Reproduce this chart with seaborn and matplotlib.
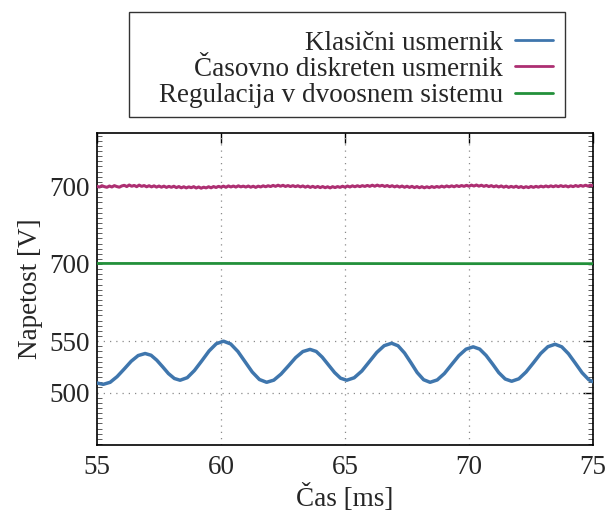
import numpy as np
import pandas as pd
import matplotlib
matplotlib.use("Agg")
import matplotlib.pyplot as plt
from matplotlib.lines import Line2D
from matplotlib.patches import Rectangle
import seaborn as sns

# ---------------- data ----------------
series_names = ["Klasični usmernik", "Časovno diskreten usmernik", "Regulacija v dvoosnem sistemu"]
series_colors = ["#3f76ad", "#ad2f72", "#22903a"]

t_klasicni = [55.0, 55.25, 55.53, 55.81, 56.10, 56.38, 56.66, 56.94,
              57.18, 57.41, 57.65, 57.88, 58.12, 58.35,
              58.64, 58.93, 59.23, 59.52, 59.81, 60.10,
              60.39, 60.68, 60.97, 61.26, 61.55, 61.84,
              62.13, 62.42, 62.72, 63.01, 63.30, 63.59,
              63.84, 64.08, 64.33, 64.58, 64.82, 65.07,
              65.37, 65.68, 65.98, 66.28, 66.58, 66.88,
              67.14, 67.40, 67.66, 67.91, 68.17, 68.43,
              68.72, 69.01, 69.30, 69.59, 69.88, 70.17,
              70.43, 70.69, 70.95, 71.20, 71.46, 71.72,
              72.01, 72.30, 72.60, 72.89, 73.18, 73.47,
              73.74, 74.01, 74.29, 74.56, 74.83, 75.0]
u_klasicni = [509.3, 508.0, 510.0, 515.5, 523.0, 530.5, 536.0, 538.0,
              536.3, 531.5, 525.0, 518.5, 513.7, 512.0,
              514.5, 521.5, 531.0, 540.5, 547.5, 550.0,
              547.3, 540.0, 530.0, 520.0, 512.7, 510.0,
              512.1, 518.0, 526.0, 534.0, 539.9, 542.0,
              540.0, 534.5, 527.0, 519.5, 514.0, 512.0,
              514.4, 521.0, 530.0, 539.0, 545.6, 548.0,
              545.5, 538.5, 529.0, 519.5, 512.5, 510.0,
              512.3, 518.6, 527.3, 535.9, 542.2, 544.5,
              542.3, 536.1, 527.8, 519.4, 513.2, 511.0,
              513.4, 520.0, 529.0, 538.0, 544.6, 547.0,
              544.5, 537.8, 528.5, 519.3, 512.5, 510.5]

t_diskretni = [round(55.0 + 0.1 * i, 1) for i in range(201)]
u_diskretni = [
    700.6, 699.9, 701.2, 700.3, 699.7, 700.9, 700.0, 701.3, 700.4, 699.8,
    701.0, 701.6, 700.4, 701.9, 700.7, 701.5, 700.3, 701.8, 700.6, 701.4,
    700.2, 701.2, 700.1, 701.1, 699.9, 700.9, 699.8, 700.8, 699.6, 700.6,
    699.7, 700.7, 699.4, 700.4, 699.2, 700.2, 699.1, 700.1, 699.3, 700.3,
    699.0, 700.0, 698.8, 699.8, 699.1, 700.2, 699.2, 700.4, 699.5, 700.6,
    699.8, 700.8, 699.7, 701.0, 700.0, 700.9, 699.9, 701.1, 700.1, 700.8,
    699.9, 700.9, 699.8, 700.7, 699.6, 700.8, 700.0, 701.1, 700.2, 701.2,
    700.4, 701.5, 700.6, 701.7, 700.7, 701.6, 700.5, 701.4, 700.4, 701.3,
    700.3, 701.2, 700.1, 701.0, 699.8, 700.8, 699.6, 700.6, 699.5, 700.5,
    699.4, 700.4, 699.3, 700.2, 699.1, 700.3, 699.4, 700.4, 699.6, 700.7,
    699.8, 700.9, 700.0, 701.1, 700.2, 701.2, 700.3, 701.3, 700.5, 701.5,
    700.6, 701.7, 700.7, 701.8, 700.8, 701.6, 700.5, 701.4, 700.3, 701.2,
    700.1, 701.0, 699.9, 700.9, 699.7, 700.7, 699.6, 700.6, 699.4, 700.4,
    699.3, 700.3, 699.2, 700.2, 699.3, 700.4, 699.5, 700.5, 699.7, 700.8,
    699.9, 701.0, 700.1, 701.1, 700.2, 701.3, 700.4, 701.4, 700.6, 701.6,
    700.7, 701.8, 700.9, 701.9, 700.8, 701.7, 700.6, 701.5, 700.4, 701.3,
    700.2, 701.1, 700.0, 701.0, 699.8, 700.8, 699.6, 700.6, 699.7, 700.7,
    699.5, 700.4, 699.3, 700.3, 699.4, 700.5, 699.6, 700.6, 699.8, 700.8,
    700.0, 701.0, 700.1, 701.1, 700.2, 701.2, 700.3, 701.3, 700.4, 701.1,
    700.1, 701.1, 700.3, 701.4, 700.5, 701.5, 700.7, 701.7, 700.8, 701.8,
    701.1]

t_regulacija = [55.0, 60.0, 65.0, 70.0, 75.0]
u_regulacija = [625.6, 625.6, 625.5, 625.4, 625.4]

x_ticks = [55, 60, 65, 70, 75]
y_grid_ticks = [500, 550]
y_ticks = [500, 550, 625.5, 700.5]
y_tick_labels = ["500", "550", "700", "700"]

x_label = "Čas [ms]"
y_label = "Napetost [V]"

# ---------------- style ----------------
sns.set_style("white")
plt.rcParams["font.family"] = ["Liberation Serif", "DejaVu Serif"]
FS = 19.5

fig = plt.figure(figsize=(6.06, 5.21), dpi=100)
ax = fig.add_axes([97 / 606, 76 / 521, 496 / 606, 312 / 521])

df_k = pd.DataFrame({"t": t_klasicni, "u": u_klasicni})
df_d = pd.DataFrame({"t": t_diskretni, "u": u_diskretni})
df_r = pd.DataFrame({"t": t_regulacija, "u": u_regulacija})

sns.lineplot(data=df_d, x="t", y="u", ax=ax, color=series_colors[1], lw=2.2, zorder=3)
sns.lineplot(data=df_r, x="t", y="u", ax=ax, color=series_colors[2], lw=2.0, zorder=3)
sns.lineplot(data=df_k, x="t", y="u", ax=ax, color=series_colors[0], lw=2.5, zorder=3)

ax.set_xlim(55, 75)
ax.set_ylim(449, 752.5)

# grid
for xv in x_ticks[1:-1]:
    ax.axvline(xv, color="#8a8a8a", lw=0.9, ls=(0, (1, 4)), zorder=1)
for yv in y_grid_ticks:
    ax.axhline(yv, color="#8a8a8a", lw=0.9, ls=(0, (1, 4)), zorder=1)

ax.set_xticks(x_ticks)
ax.set_xticklabels([str(v) for v in x_ticks], fontsize=FS)
ax.set_yticks(y_ticks)
ax.set_yticklabels(y_tick_labels, fontsize=FS)
ax.set_yticks(np.arange(450, 752, 5), minor=True)
ax.tick_params(axis="both", which="major", direction="in", length=7, width=1.0,
               top=True, right=True, color="black")
ax.tick_params(axis="x", which="major", pad=7)
ax.tick_params(axis="y", which="major", pad=5)
ax.tick_params(axis="y", which="minor", direction="in", length=3.5, width=0.6,
               left=True, right=True, color="#444444")
ax.tick_params(axis="x", which="minor", bottom=False, top=False)
# shorter tick marks for the two upper labels
for tk in ax.yaxis.get_major_ticks()[2:]:
    tk.tick1line.set_markersize(3.5)
    tk.tick2line.set_markersize(3.5)

for sp in ax.spines.values():
    sp.set_color("black")
    sp.set_linewidth(1.2)

ax.set_xlabel(x_label, fontsize=FS, labelpad=3)
ax.set_ylabel(y_label, fontsize=FS, labelpad=5)

# ---------------- legend (drawn manually, right-aligned text) ----------------
box = Rectangle((129 / 606, 1 - 117 / 521), (565 - 129) / 606, (117 - 12) / 521,
                transform=fig.transFigure, fill=False, edgecolor="#333333", lw=1.0)
fig.add_artist(box)
row_y = [40, 66, 93]
for name, col, yy in zip(series_names, series_colors, row_y):
    fy = 1 - yy / 521
    fig.text(503 / 606, fy, name, ha="right", va="center_baseline", fontsize=FS)
    fig.add_artist(Line2D([515 / 606, 553 / 606], [fy, fy], transform=fig.transFigure,
                          color=col, lw=2.0))

fig.savefig("out.png", dpi=100)
